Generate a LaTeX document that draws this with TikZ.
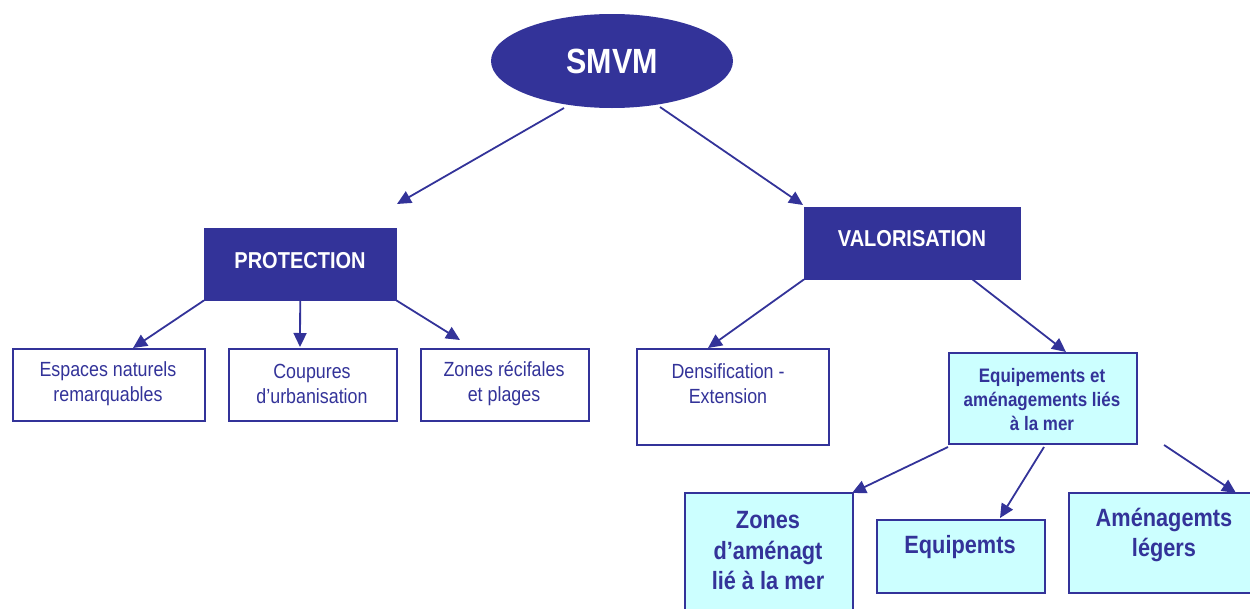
\documentclass[tikz,border=0pt]{standalone}
\usepackage{fontspec}
\setmainfont[FakeStretch=0.87]{Liberation Sans}
\usetikzlibrary{shapes.geometric,arrows.meta}
\definecolor{dblue}{HTML}{333399}
\definecolor{lcyan}{HTML}{CCFFFF}
\tikzset{
  darkbox/.style={draw=dblue,fill=dblue,text=white,font=\bfseries\fontsize{23}{27}\selectfont,inner sep=0pt,anchor=north west},
  wbox/.style={draw=dblue,line width=1.6pt,fill=white,inner sep=0pt,anchor=north west},
  cbox/.style={draw=dblue,line width=1.6pt,fill=lcyan,inner sep=0pt,anchor=north west},
  small/.style={text=dblue,font=\fontsize{20.5}{25}\selectfont,align=center,inner sep=0pt},
  mid/.style={text=dblue,font=\bfseries\fontsize{19.5}{24}\selectfont,align=center,inner sep=0pt},
  big/.style={text=dblue,font=\bfseries\fontsize{25}{30.5}\selectfont,align=center,inner sep=0pt},
  arr/.style={draw=dblue,line width=1.8pt,-{Triangle[length=14pt,width=13pt]}}
}
\begin{document}
\begin{tikzpicture}[x=1pt,y=-1pt]
\useasboundingbox (0,0) rectangle (1250,608);
% root
\node[ellipse,fill=dblue,minimum width=242pt,minimum height=94pt,inner sep=0pt,text=white,font=\bfseries\fontsize{35}{40}\selectfont] (smvm) at (612,61) {SMVM};
% level 1
\node[darkbox,minimum width=192pt,minimum height=72pt] (prot) at (204,228) {};
\node[text=white,font=\bfseries\fontsize{23}{27}\selectfont,inner sep=0pt] (protT) at (300,261) {PROTECTION};
\node[darkbox,minimum width=216pt,minimum height=72pt] (valo) at (804,207) {};
\node[text=white,font=\bfseries\fontsize{23}{27}\selectfont,inner sep=0pt] (valoT) at (912,239) {VALORISATION};
% level 2 left
\node[wbox,minimum width=192pt,minimum height=72pt] (esp) at (12,348) {};
\node[small] (espT) at (108,384) {Espaces naturels\\remarquables};
\node[wbox,minimum width=168pt,minimum height=72pt] (coup) at (228,348) {};
\node[small] (coupT) at (312,384) {Coupures\\d’urbanisation};
\node[wbox,minimum width=168pt,minimum height=72pt] (zrec) at (420,348) {};
\node[small] (zrecT) at (504,384) {Zones récifales\\et plages};
% level 2 right
\node[wbox,minimum width=192pt,minimum height=96pt] (dens) at (636,348) {};
\node[small] (densT) at (728,384) {Densification -\\Extension};
\node[cbox,minimum width=188pt,minimum height=91pt] (equi) at (948,352) {};
\node[mid] (equiT) at (1042,400) {Equipements et\\aménagements liés\\à la mer};
% level 3
\node[cbox,minimum width=168pt,minimum height=130pt] (zam) at (684,492) {};
\node[big] (zamT) at (768,551) {Zones\\d’aménagt\\lié à la mer};
\node[cbox,minimum width=168pt,minimum height=73pt] (eqp) at (876,519) {};
\node[big] (eqpT) at (960,547) {Equipemts};
\node[cbox,minimum width=190pt,minimum height=100pt] (amg) at (1068,492) {};
\node[big] (amgT) at (1164,535) {Aménagemts\\légers};
% arrow endpoints
\coordinate (a1s) at (564,108); \coordinate (a1e) at (397,204);
\coordinate (a2s) at (660,107); \coordinate (a2e) at (803,205);
\coordinate (a3e) at (133,348);
\coordinate (a4e) at (300,347);
\coordinate (a5e) at (460,340);
\coordinate (a6e) at (708,348);
\coordinate (a7s) at (972,279); \coordinate (a7e) at (1066,352);
\coordinate (a8s) at (948,447); \coordinate (a8e) at (852,493);
\coordinate (a9s) at (1044,447); \coordinate (a9e) at (1000,518);
\coordinate (a10s) at (1164,445); \coordinate (a10e) at (1236,493);
% connectors
\draw[arr] (a1s) -- (a1e);
\draw[arr] (a2s) -- (a2e);
\draw[arr] (prot.south west) -- (a3e);
\draw[arr] (prot.south) -- (a4e);
\draw[arr] (prot.south east) -- (a5e);
\draw[arr] (valo.south west) -- (a6e);
\draw[arr] (a7s) -- (a7e);
\draw[arr] (a8s) -- (a8e);
\draw[arr] (a9s) -- (a9e);
\draw[arr] (a10s) -- (a10e);
\end{tikzpicture}
\end{document}
